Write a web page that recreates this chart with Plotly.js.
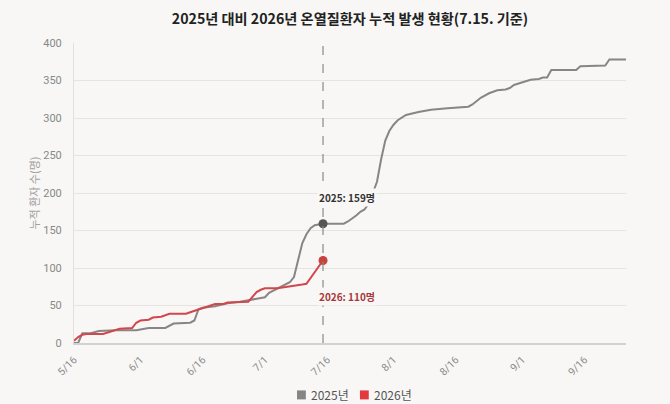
<!DOCTYPE html>
<html>
<head>
<meta charset="utf-8">
<script src="https://cdn.plot.ly/plotly-3.0.1.min.js"></script>
<style>
html,body{margin:0;padding:0;background:#f8f7f5;}
#chart{width:670px;height:404px;}
</style>
</head>
<body>
<div id="chart"></div>
<script>
// Axis year used only to place month/day values on a date axis
const AXIS_YEAR = '2025';

// 2025 cumulative heat-illness patients (month-day, value)
const days2025 = ['05-16','05-17','05-18','05-20','05-22','05-26','05-31','06-03','06-07','06-09','06-13','06-14','06-15','06-16','06-19','06-22','06-25','06-28','07-01','07-02','07-04','07-06','07-07','07-08','07-09','07-10','07-11','07-12','07-13','07-14','07-15','07-20','07-21','07-23','07-24','07-25','07-26','07-27','07-28','07-29','07-30','07-31','08-01','08-02','08-03','08-04','08-07','08-10','08-14','08-19','08-20','08-21','08-22','08-24','08-26','08-28','08-29','08-30','09-01','09-03','09-05','09-06','09-07','09-08','09-14','09-15','09-21','09-22','09-26'];
const vals2025 = [0,0,13,13,16,17,17,20,20,26,27,30,45,47,49,53,55,58,61,67,73,78,81,88,112,133,145,153,157,158,159,159,162,170,175,178,186,200,215,245,270,283,291,297,301,304,308,311,313,315,318,322,327,333,337,338,340,344,348,351,352,354,354,364,364,369,370,378,378];

// 2026 cumulative heat-illness patients (month-day, value)
const days2026 = ['05-16','05-17','05-18','05-19','05-23','05-24','05-26','05-27','05-30','05-31','06-01','06-03','06-04','06-06','06-08','06-12','06-13','06-14','06-16','06-18','06-19','06-21','06-22','06-27','06-28','06-29','06-30','07-01','07-04','07-07','07-10','07-11','07-12','07-13','07-14','07-15'];
const vals2026 = [3,8,11,12,12,14,18,19,20,27,30,31,34,35,39,39,41,43,46,50,52,52,54,55,61,68,71,73,73,75,78,79,87,95,102,110];

const seriesNames = ['2025년','2026년'];
const refDay = '07-15';

const tickDays = ['05-16','06-01','06-16','07-01','07-16','08-01','08-16','09-01','09-16'];
const tickLabels = ['5/16','6/1','6/16','7/1','7/16','8/1','8/16','9/1','9/16'];
const yTicks = [0,50,100,150,200,250,300,350,400];

const rangeDays = ['05-16','09-26'];

const toDate = d => AXIS_YEAR + '-' + d;
const grayLine = '#868686', redLine = '#d2464c';
const grayDot = '#555555', redDot = '#c8423f';
const legendColors = ['#858585', '#e0393e'];
const kr = '"Noto Sans CJK KR", "Noto Sans", sans-serif';

const ref25 = vals2025[days2025.indexOf(refDay)];
const ref26 = vals2026[days2026.indexOf(refDay)];

const traces = [
  {x: days2025.map(toDate), y: vals2025, type:'scatter', mode:'lines', name:seriesNames[0],
   line:{color:grayLine, width:2}, showlegend:false, hoverinfo:'skip'},
  {x: days2026.map(toDate), y: vals2026, type:'scatter', mode:'lines', name:seriesNames[1],
   line:{color:redLine, width:2}, showlegend:false, hoverinfo:'skip'},
  {x:[toDate(refDay)], y:[ref25], type:'scatter', mode:'markers',
   marker:{color:grayDot, size:9}, showlegend:false, hoverinfo:'skip'},
  {x:[toDate(refDay)], y:[ref26], type:'scatter', mode:'markers',
   marker:{color:redDot, size:9}, showlegend:false, hoverinfo:'skip'}
];

// legend drawn below the plot (paper coordinates)
const legY = -0.173;
const legItems = [{x0:0.404, x1:0.420, tx:0.426}, {x0:0.518, x1:0.534, tx:0.540}];
const legShapes = legItems.map((it,i) => ({type:'rect', xref:'paper', yref:'paper',
  x0:it.x0, x1:it.x1, y0:legY-0.015, y1:legY+0.015, fillcolor:legendColors[i], line:{width:0}}));
const legTexts = legItems.map((it,i) => ({xref:'paper', yref:'paper', x:it.tx, y:legY,
  xanchor:'left', yanchor:'middle', showarrow:false, text:seriesNames[i],
  font:{family:kr, size:12, color:'#555'}}));

const layout = {
  width:670, height:404,
  paper_bgcolor:'#f8f7f5', plot_bgcolor:'#f8f7f5',
  margin:{l:74, r:44, t:43, b:61, pad:0},
  font:{family:kr, color:'#888'},
  showlegend:false,
  title:{text:'2025년 대비 2026년 온열질환자 누적 발생 현황(7.15. 기준)',
    font:{family:kr, size:14.2, color:'#222', weight:700},
    xref:'paper', x:0.5, xanchor:'center', yref:'container', y:0.953, yanchor:'middle'},
  xaxis:{type:'date', range:rangeDays.map(toDate), tickvals:tickDays.map(toDate), ticktext:tickLabels,
    tickangle:-45, tickfont:{family:'Roboto, Arial, sans-serif', size:10.5, color:'#8c8c8c'},
    showgrid:false, zeroline:false, showline:true, linecolor:'#d2d2d2', linewidth:1.5,
    ticks:'', ticklabelstandoff:5, automargin:false},
  yaxis:{range:[0,400], tickvals:yTicks, showgrid:true, gridcolor:'#e6e4e0', gridwidth:1,
    zeroline:false, showline:true, linecolor:'#e2e0dc', linewidth:1, automargin:false,
    tickfont:{family:'Roboto, Arial, sans-serif', size:11, color:'#888'}, ticks:'', ticklabelstandoff:9,
    title:{text:'누적 환자 수(명)', font:{family:kr, size:11, color:'#a0a0a0'}, standoff:1}},
  shapes:[{type:'line', xref:'x', yref:'paper', x0:toDate(refDay), x1:toDate(refDay), y0:0, y1:1,
    line:{color:'#8a8a8a', width:1.2, dash:'dash'}}].concat(legShapes),
  annotations:[
    {x:toDate(refDay), y:ref25, xref:'x', yref:'y', text:'2025: ' + ref25 + '명', showarrow:false,
     xanchor:'left', yanchor:'middle', xshift:-6, yshift:26, font:{family:kr, size:10, color:'#333', weight:600},
     bgcolor:'#f8f7f5'},
    {x:toDate(refDay), y:ref26, xref:'x', yref:'y', text:'2026: ' + ref26 + '명', showarrow:false,
     xanchor:'left', yanchor:'middle', xshift:-6, yshift:-36, font:{family:kr, size:10, color:'#a8393b', weight:600},
     bgcolor:'#f8f7f5'}
  ].concat(legTexts)
};

Plotly.newPlot('chart', traces, layout, {displayModeBar:false, staticPlot:true});
</script>
</body>
</html>
